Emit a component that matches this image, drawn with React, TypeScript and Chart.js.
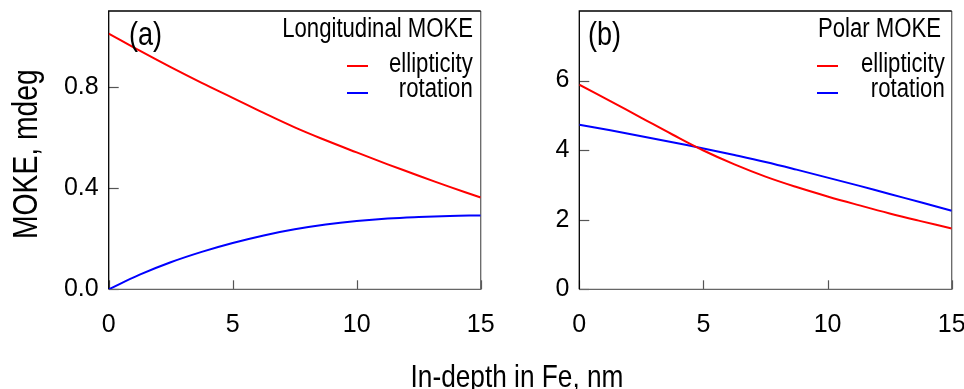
import React, { useEffect, useRef } from "react";
import { Chart, registerables } from "chart.js";

Chart.register(...registerables);

// ---- data ----
const depth = [0, 1.25, 2.5, 3.75, 5, 6.25, 7.5, 8.75, 10, 11.25, 12.5, 13.75, 15];

const longEllipticity = [1.011, 0.943, 0.878, 0.816, 0.757, 0.697, 0.64, 0.589, 0.541, 0.494, 0.449, 0.405, 0.363];
const longRotation = [0.0, 0.058, 0.107, 0.148, 0.183, 0.213, 0.237, 0.256, 0.27, 0.28, 0.286, 0.29, 0.292];

const polarEllipticity = [5.88, 5.41, 4.93, 4.45, 3.99, 3.59, 3.24, 2.94, 2.67, 2.42, 2.18, 1.96, 1.75];
const polarRotation = [4.73, 4.57, 4.4, 4.23, 4.05, 3.86, 3.66, 3.44, 3.21, 2.98, 2.74, 2.5, 2.26];

const xTickValues = [0, 5, 10, 15];
const longYLabels = [0, 0.4, 0.8];
const polarYLabels = [0, 2, 4, 6];

const seriesNames = ["ellipticity", "rotation"];
const panelLabels = ["(a)", "(b)"];
const panelTitles = ["Longitudinal MOKE", "Polar MOKE"];
const yAxisTitle = "MOKE, mdeg";
const xAxisTitle = "In-depth in Fe, nm";

const SANS = '"Liberation Sans", Arial, sans-serif';
const NARROW_SCALE = 0.82;

function fillNarrow(ctx: any, text: string, x: number, y: number, size: number, align: string, baseline = "alphabetic", rot = 0) {
  ctx.save();
  ctx.translate(x, y);
  if (rot) ctx.rotate(rot);
  ctx.scale(NARROW_SCALE, 1);
  ctx.font = `${size}px ${SANS}`;
  ctx.textAlign = align;
  ctx.textBaseline = baseline;
  ctx.fillStyle = "#000";
  ctx.fillText(text, 0, 0);
  ctx.restore();
}

const pts = (ys: number[]) => depth.map((x, i) => ({ x, y: ys[i] }));

const panelPlugin = {
  id: "panelDecor",
  beforeDatasetsDraw(chart: any) {
    const { ctx, chartArea: a } = chart;
    const xs = chart.scales.x;
    const ys = chart.scales.y;
    ctx.save();
    ctx.strokeStyle = "#555";
    ctx.lineWidth = 1.2;
    ys.ticks.forEach((t: any) => {
      const y = Math.round(ys.getPixelForValue(t.value)) + 0.5;
      ctx.beginPath();
      ctx.moveTo(a.left, y);
      ctx.lineTo(a.left + 10, y);
      ctx.stroke();
    });
    xs.ticks.forEach((t: any) => {
      const x = Math.round(xs.getPixelForValue(t.value)) + 0.5;
      ctx.beginPath();
      ctx.moveTo(x, a.bottom);
      ctx.lineTo(x, a.bottom - 9);
      ctx.stroke();
    });
    ctx.lineWidth = 1.3;
    ctx.strokeStyle = "#666";
    ctx.beginPath();
    ctx.moveTo(a.right, a.top);
    ctx.lineTo(a.right, a.bottom);
    ctx.lineTo(a.left, a.bottom);
    ctx.stroke();
    ctx.strokeStyle = "#000";
    ctx.beginPath();
    ctx.moveTo(a.left, a.bottom);
    ctx.lineTo(a.left, a.top);
    ctx.lineTo(a.right, a.top);
    ctx.stroke();
    ctx.restore();
  },
  afterDatasetsDraw(chart: any, _args: any, opts: any) {
    const { ctx, chartArea: a } = chart;
    fillNarrow(ctx, opts.label, a.left + opts.labelDx, a.top + 34, 33, "left");
    fillNarrow(ctx, opts.title, a.right - opts.titleDx, a.top + 26, 27, "right");
    const rowsLine = [55, 82];
    const rowsText = [61, 86];
    chart.data.datasets.forEach((d: any, i: number) => {
      ctx.save();
      ctx.strokeStyle = d.borderColor;
      ctx.lineWidth = 2;
      ctx.beginPath();
      ctx.moveTo(a.right - opts.sampleDx, a.top + rowsLine[i]);
      ctx.lineTo(a.right - opts.sampleDx + 21, a.top + rowsLine[i]);
      ctx.stroke();
      ctx.restore();
      fillNarrow(ctx, d.label, a.right - opts.legendDx, a.top + rowsText[i], 27, "right");
    });
    if (opts.yTitle) {
      fillNarrow(ctx, opts.yTitle, 27, (a.top + a.bottom) / 2 + 4, 34.5, "center", "middle", -Math.PI / 2);
    }
  },
};

function zeroPad(s: any) {
  s.paddingLeft = 0;
  s.paddingRight = 0;
  s.paddingTop = 0;
  s.paddingBottom = 0;
}

function makeConfig(
  e: number[],
  r: number[],
  yMax: number,
  yStep: number,
  yLabels: number[],
  yDigits: number,
  yWidth: number,
  rightPad: number,
  decor: any
): any {
  return {
    type: "line",
    data: {
      datasets: [
        { label: seriesNames[0], data: pts(e), borderColor: "#ff0000", borderWidth: 2, pointRadius: 0, tension: 0.4, fill: false },
        { label: seriesNames[1], data: pts(r), borderColor: "#0000ff", borderWidth: 2, pointRadius: 0, tension: 0.4, fill: false },
      ],
    },
    options: {
      responsive: false,
      animation: false,
      events: [],
      layout: { autoPadding: false, padding: { top: 11, right: rightPad, left: 0, bottom: 0 } },
      plugins: { legend: { display: false }, tooltip: { enabled: false }, panelDecor: decor },
      scales: {
        x: {
          type: "linear",
          min: 0,
          max: 15,
          afterBuildTicks: (s: any) => {
            s.ticks = xTickValues.map((v) => ({ value: v }));
          },
          afterFit: (s: any) => {
            s.height = 99.7;
            zeroPad(s);
          },
          grid: { display: false, drawTicks: false },
          border: { display: false },
          ticks: { padding: 21, color: "#000", font: { family: SANS, size: 25 }, maxRotation: 0, autoSkip: false, callback: (v: any) => String(v) },
        },
        y: {
          type: "linear",
          min: 0,
          max: yMax,
          afterFit: (s: any) => {
            s.width = yWidth;
            zeroPad(s);
          },
          grid: { display: false, drawTicks: false },
          border: { display: false },
          ticks: {
            stepSize: yStep,
            includeBounds: false,
            padding: 10,
            color: "#000",
            font: { family: SANS, size: 25 },
            callback: (v: any) => {
              const hit = yLabels.some((l) => Math.abs(l - v) < 1e-6);
              return hit ? Number(v).toFixed(yDigits) : null;
            },
          },
        },
      },
    },
    plugins: [panelPlugin],
  };
}

export default function App() {
  const refA = useRef<HTMLCanvasElement>(null);
  const refB = useRef<HTMLCanvasElement>(null);

  useEffect(() => {
    const a = new Chart(
      refA.current as HTMLCanvasElement,
      makeConfig(longEllipticity, longRotation, 1.1, 0.2, longYLabels, 1, 108.7, 19.3, {
        label: panelLabels[0],
        labelDx: 20.3,
        title: panelTitles[0],
        titleDx: 7.7,
        legendDx: 8,
        sampleDx: 133.7,
        yTitle: yAxisTitle,
      })
    );
    const b = new Chart(
      refB.current as HTMLCanvasElement,
      makeConfig(polarEllipticity, polarRotation, 8, 2, polarYLabels, 0, 79.3, 28.3, {
        label: panelLabels[1],
        labelDx: 8.7,
        title: panelTitles[1],
        titleDx: 10.7,
        legendDx: 7,
        sampleDx: 134.7,
      })
    );
    return () => {
      a.destroy();
      b.destroy();
    };
  }, []);

  return (
    <div style={{ position: "fixed", left: 0, top: 0, width: 964, height: 389, overflow: "hidden", background: "#fff" }}>
      <canvas ref={refA} width={500} height={389} style={{ position: "absolute", left: 0, top: 0 }} />
      <canvas ref={refB} width={480} height={389} style={{ position: "absolute", left: 500, top: 0 }} />
      <div
        style={{
          position: "absolute",
          left: 317,
          top: 360,
          width: 400,
          textAlign: "center",
          fontFamily: SANS,
          fontSize: 32,
          lineHeight: "32px",
          color: "#000",
          whiteSpace: "nowrap",
          transform: `scaleX(${NARROW_SCALE})`,
          transformOrigin: "50% 50%",
        }}
      >
        {xAxisTitle}
      </div>
    </div>
  );
}
